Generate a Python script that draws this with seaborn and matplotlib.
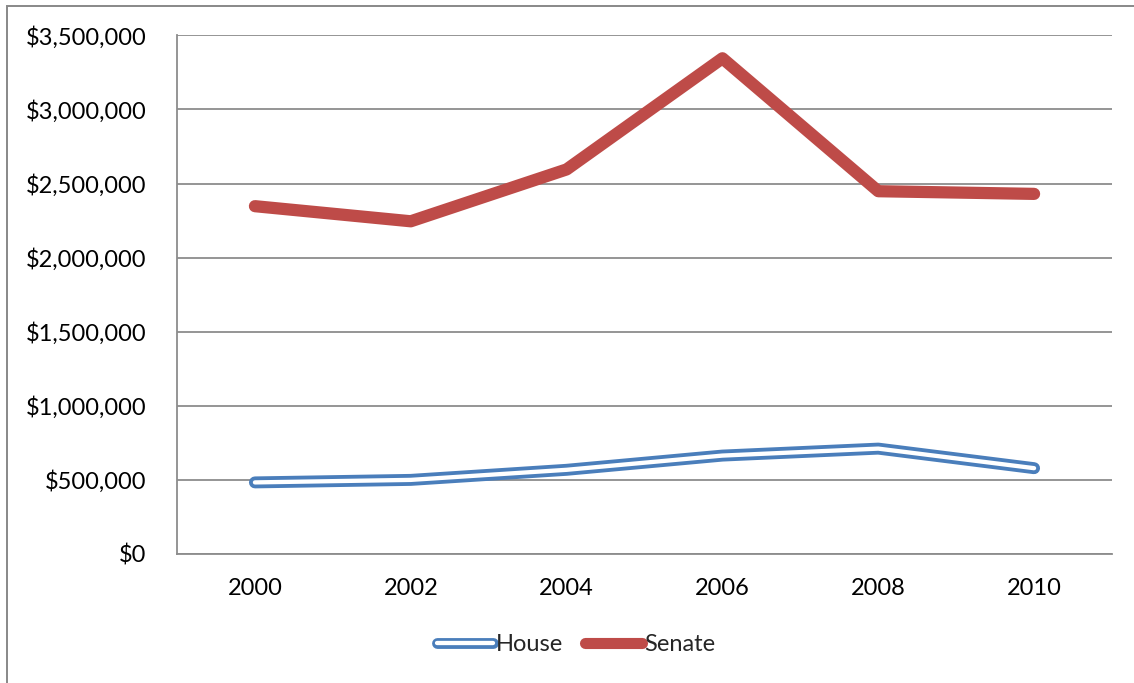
import matplotlib
matplotlib.use("Agg")
import matplotlib.pyplot as plt
import matplotlib.patheffects as pe
from matplotlib.lines import Line2D
from matplotlib.patches import Rectangle
from matplotlib.ticker import FuncFormatter
import pandas as pd
import seaborn as sns

# Average winning campaign spending by election year
years = ["2000", "2002", "2004", "2006", "2008", "2010"]
house = [483000, 500000, 568000, 664000, 711000, 579000]
senate = [2347000, 2245000, 2595000, 3345000, 2448000, 2430000]
y_ticks = [0, 500000, 1000000, 1500000, 2000000, 2500000, 3000000, 3500000]

BLUE = "#4a7ebb"
RED = "#be4b48"
GRID = "#8c8c8c"

sns.set_style("white")
plt.rcParams["font.family"] = ["Lato", "DejaVu Sans"]

df = pd.DataFrame({
    "year": years * 2,
    "value": house + senate,
    "chamber": ["House"] * len(years) + ["Senate"] * len(years),
})
df["pos"] = list(range(len(years))) * 2

fig = plt.figure(figsize=(11.34, 6.83), dpi=100)
ax = fig.add_axes([0.1561, 0.1889, 0.9806 - 0.1561, 0.9483 - 0.1889])

# House: outlined (double) line
house_fx = [pe.Stroke(linewidth=8.6, foreground=BLUE, capstyle="round", joinstyle="round"), pe.Normal()]
sns.lineplot(data=df[df.chamber == "House"], x="pos", y="value", ax=ax,
             color="white", linewidth=3.1, legend=False, zorder=3,
             path_effects=house_fx, solid_capstyle="round", solid_joinstyle="round")
# Senate: thick solid line
sns.lineplot(data=df[df.chamber == "Senate"], x="pos", y="value", ax=ax,
             color=RED, linewidth=8.8, legend=False, zorder=3,
             solid_capstyle="round", solid_joinstyle="round")

ax.set_xlim(-0.5, len(years) - 0.5)
ax.set_ylim(0, 3500000)
ax.set_xticks(range(len(years)))
ax.set_xticklabels(years)
ax.set_yticks(y_ticks)
ax.yaxis.set_major_formatter(FuncFormatter(lambda v, p: f"${v:,.0f}"))
ax.set_xlabel("")
ax.set_ylabel("")

ax.grid(axis="y", color=GRID, linewidth=1.3)
ax.grid(axis="x", visible=False)
ax.set_axisbelow(True)
for side in ["top", "right"]:
    ax.spines[side].set_visible(False)
for side in ["left", "bottom"]:
    ax.spines[side].set_color(GRID)
    ax.spines[side].set_linewidth(1.3)

ax.tick_params(axis="y", length=0, pad=22, labelsize=17, labelcolor="black")
ax.tick_params(axis="x", length=0, pad=17, labelsize=17, labelcolor="black")

handles = [
    Line2D([0], [0], color="white", linewidth=3.1, solid_capstyle="round",
           path_effects=[pe.Stroke(linewidth=7.8, foreground=BLUE, capstyle="round"), pe.Normal()]),
    Line2D([0], [0], color=RED, linewidth=8.0, solid_capstyle="round"),
]
fig.legend(handles, ["House", "Senate"], loc="center", bbox_to_anchor=(0.508, 0.056),
           ncol=2, frameon=False, fontsize=17, handlelength=2.4, handletextpad=0.1,
           columnspacing=0.95)

# chart frame
fig.patches.append(Rectangle((7 / 1134, -0.1), 1.2, 1 - 6 / 683 + 0.1,
                             transform=fig.transFigure, fill=False,
                             edgecolor="#888888", linewidth=1.4))

fig.savefig("out.png", dpi=100)
